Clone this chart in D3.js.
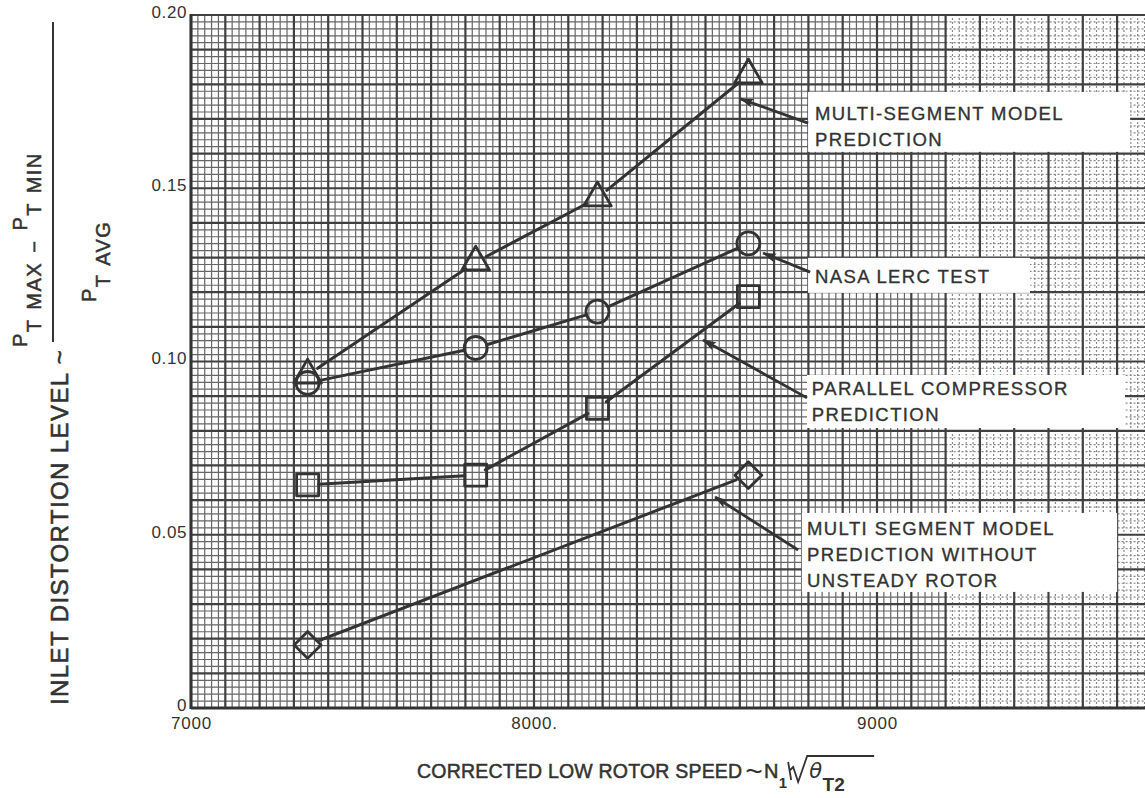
<!DOCTYPE html>
<html><head><meta charset="utf-8">
<script src="https://cdn.jsdelivr.net/npm/d3@7/dist/d3.min.js"></script>
<style>
body{margin:0;background:#fff;}
svg{display:block;}
text{font-family:"Liberation Sans", Arial, Helvetica, sans-serif; fill:#333;}
</style></head><body>
<svg id="chart" width="1145" height="798"></svg>
<script>
// ---- data ----
const speeds = [7340, 7830, 8185, 8625];
const multiSegment = [0.0961, 0.1287, 0.1472, 0.1827];   // triangles
const nasaTest = [0.0938, 0.1039, 0.1144, 0.1341];       // circles
const parallelComp = [0.0644, 0.0672, 0.0865, 0.1187];   // squares
const noUnsteadySpeeds = [7340, 8625];
const noUnsteady = [0.0182, 0.0672];                     // diamonds
const yTicks = [0, 0.05, 0.10, 0.15, 0.20];
const yTickLabels = ["0", "0.05", "0.10", "0.15", "0.20"];
const xTicks = [7000, 8000, 9000];
const xTickLabels = ["7000", "8000.", "9000"];
const labelMulti = ["MULTI-SEGMENT MODEL", "PREDICTION"];
const labelNasa = ["NASA LERC TEST"];
const labelParallel = ["PARALLEL COMPRESSOR", "PREDICTION"];
const labelNoUnsteady = ["MULTI SEGMENT MODEL", "PREDICTION WITHOUT", "UNSTEADY ROTOR"];

// ---- layout ----
const svg = d3.select("#chart");
const x = d3.scaleLinear().domain([7000, 9800]).range([191, 191 + 2800 * 0.343]);
const y = d3.scaleLinear().domain([0, 0.20]).range([708, 15]);
const ink = "#333";
const xFadeStart = 9200;

// ---- grid paper ----
const grid = svg.append("g");
const xMinor = d3.range(0, 141).map(i => 7000 + i * 20);
const yMinor = d3.range(0, 101).map(i => i * 0.002);
const xMajor = d3.range(0, 29).map(i => 7000 + i * 100);
const yMajor = d3.range(0, 21).map(i => i * 0.01);
const isMajX = v => Math.abs((v - 7000) % 100) < 1e-6;
const isMajY = v => Math.abs(Math.round(v * 100) - v * 100) < 1e-6;

grid.selectAll("line.vmin").data(xMinor.filter(v => !isMajX(v))).join("line")
  .attr("x1", d => x(d)).attr("x2", d => x(d)).attr("y1", y(0)).attr("y2", y(0.2))
  .attr("stroke", d => d > xFadeStart ? "#888" : "#666").attr("stroke-width", 1.2)
  .attr("stroke-dasharray", d => d > xFadeStart ? "2,2" : null);
grid.selectAll("line.hmin").data(yMinor.filter(v => !isMajY(v))).join("line")
  .attr("x1", x(7000)).attr("x2", x(xFadeStart)).attr("y1", d => y(d)).attr("y2", d => y(d))
  .attr("stroke", "#666").attr("stroke-width", 1.2);
grid.selectAll("line.hminf").data(yMinor.filter(v => !isMajY(v))).join("line")
  .attr("x1", x(xFadeStart)).attr("x2", x(9800)).attr("y1", d => y(d)).attr("y2", d => y(d))
  .attr("stroke", "#888").attr("stroke-width", 1.2).attr("stroke-dasharray", "2,2");
grid.selectAll("line.vmaj").data(xMajor).join("line")
  .attr("x1", d => x(d)).attr("x2", d => x(d)).attr("y1", y(0)).attr("y2", y(0.2))
  .attr("stroke", "#404040").attr("stroke-width", 2.2);
grid.selectAll("line.hmaj").data(yMajor).join("line")
  .attr("x1", x(7000)).attr("x2", x(9800)).attr("y1", d => y(d)).attr("y2", d => y(d))
  .attr("stroke", "#404040").attr("stroke-width", 2.2);
// frame
grid.append("line").attr("x1", x(7000)).attr("x2", x(7000)).attr("y1", y(0) + 1).attr("y2", y(0.2) - 1)
  .attr("stroke", ink).attr("stroke-width", 3);
grid.append("line").attr("x1", x(7000)).attr("x2", x(9800)).attr("y1", y(0)).attr("y2", y(0))
  .attr("stroke", ink).attr("stroke-width", 3);

// ---- axes (labels only) ----
const yAxis = svg.append("g").attr("transform", `translate(${x(7000) - 4},-3)`)
  .call(d3.axisLeft(y).tickValues(yTicks).tickSize(0).tickPadding(0)
    .tickFormat((d, i) => yTickLabels[i]));
yAxis.select(".domain").remove();
yAxis.selectAll("text").style("font-size", "17px").style("letter-spacing", "0.6px")
  .style("font-family", '"Liberation Sans", Arial, sans-serif').attr("fill", "#333");

const xAxis = svg.append("g").attr("transform", `translate(0,${y(0) + 9})`)
  .call(d3.axisBottom(x).tickValues(xTicks).tickSize(0).tickPadding(0)
    .tickFormat((d, i) => xTickLabels[i]));
xAxis.select(".domain").remove();
xAxis.selectAll("text").style("font-size", "17px").style("letter-spacing", "0.8px")
  .style("font-family", '"Liberation Sans", Arial, sans-serif').attr("fill", "#333");

// ---- series ----
const series = [
  {xs: speeds, ys: multiSegment, sym: "triangle", r: 12},
  {xs: speeds, ys: nasaTest, sym: "circle", r: 11.5},
  {xs: speeds, ys: parallelComp, sym: "square", r: 11},
  {xs: noUnsteadySpeeds, ys: noUnsteady, sym: "diamond", r: 13}
];
const lineG = svg.append("g");
series.forEach(s => {
  const pts = s.xs.map((v, i) => [x(v), y(s.ys[i])]);
  for (let i = 0; i < pts.length - 1; i++) {
    const [x1, y1] = pts[i], [x2, y2] = pts[i + 1];
    const dx = x2 - x1, dy = y2 - y1, L = Math.hypot(dx, dy);
    const ux = dx / L, uy = dy / L;
    lineG.append("line")
      .attr("x1", x1 + ux * s.r).attr("y1", y1 + uy * s.r)
      .attr("x2", x2 - ux * s.r).attr("y2", y2 - uy * s.r)
      .attr("stroke", ink).attr("stroke-width", 3).attr("stroke-linecap", "round");
  }
  const symType = {triangle: d3.symbolTriangle, circle: d3.symbolCircle, square: d3.symbolSquare, diamond: d3.symbolSquare}[s.sym];
  const size = {triangle: 330, circle: Math.PI * 11.5 * 11.5, square: 22 * 22, diamond: 19 * 19}[s.sym];
  lineG.selectAll(null).data(pts).join("path")
    .attr("d", d3.symbol().type(symType).size(size))
    .attr("transform", d => `translate(${d[0]},${d[1]})` + (s.sym === "diamond" ? " rotate(45)" : ""))
    .attr("fill", "none").attr("stroke", ink).attr("stroke-width", 2.8).attr("stroke-linejoin", "round");
});

// ---- annotations ----
const annotations = [
  {lines: labelMulti, box: [8799, 9738, 0.1778, 0.1605], text: [8819, 0.1697], tail: [8799, 0.1688], tip: [8602, 0.1758]},
  {lines: labelNasa, box: [8799, 9446, 0.1299, 0.1198], text: [8819, 0.1227], tail: [8805, 0.1258], tip: [8668, 0.1313]},
  {lines: labelParallel, box: [8796, 9723, 0.0961, 0.0808], text: [8810, 0.0903], tail: [8796, 0.0895], tip: [8493, 0.1062]},
  {lines: labelNoUnsteady, box: [8781, 9700, 0.0563, 0.0335], text: [8796, 0.0499], tail: [8770, 0.0456], tip: [8528, 0.0609]}
];
const defs = svg.append("defs");
defs.append("marker").attr("id", "ah").attr("viewBox", "0 0 14 10").attr("refX", 13).attr("refY", 5)
  .attr("markerWidth", 14).attr("markerHeight", 10).attr("markerUnits", "userSpaceOnUse")
  .attr("orient", "auto")
  .append("path").attr("d", "M0,0.5 L14,5 L0,9.5 L3,5 Z").attr("fill", ink);

const annG = svg.append("g");
annotations.forEach(a => {
  annG.append("rect")
    .attr("x", x(a.box[0])).attr("y", y(a.box[2]))
    .attr("width", x(a.box[1]) - x(a.box[0])).attr("height", y(a.box[3]) - y(a.box[2]))
    .attr("fill", "#ffffff");
  a.lines.forEach((t, i) => {
    annG.append("text").attr("x", x(a.text[0])).attr("y", y(a.text[1]) + i * 25.8)
      .style("font-size", "18.5px").style("letter-spacing", "1.4px")
      .attr("stroke", "#333").attr("stroke-width", 0.35).text(t);
  });
  annG.append("line")
    .attr("x1", x(a.tail[0])).attr("y1", y(a.tail[1]))
    .attr("x2", x(a.tip[0])).attr("y2", y(a.tip[1]))
    .attr("stroke", ink).attr("stroke-width", 2.8).attr("marker-end", "url(#ah)");
});

// ---- x axis title ----
const xt = svg.append("g");
const t0 = xt.append("text").attr("x", 417).attr("y", 778).style("font-size", "19.5px").style("letter-spacing", "0.2px")
  .attr("stroke", "#333").attr("stroke-width", 0.5)
  .text("CORRECTED LOW ROTOR SPEED");
let cx = 417 + t0.node().getComputedTextLength() + 3;
const tl = xt.append("text").attr("x", cx).attr("y", 781).style("font-size", "30px").text("~");
cx += tl.node().getComputedTextLength() + 1;
const tn = xt.append("text").attr("x", cx).attr("y", 778).style("font-size", "20px")
  .attr("stroke", "#333").attr("stroke-width", 0.5).text("N");
cx += tn.node().getComputedTextLength() + 0.5;
const t1 = xt.append("text").attr("x", cx).attr("y", 788).style("font-size", "15px").style("font-weight", "bold").text("1");
cx += t1.node().getComputedTextLength() + 1;
// slash + radical
xt.append("path")
  .attr("d", `M${cx},${762} L${cx + 3},${780} M${cx + 1},${771} L${cx + 5},${767} L${cx + 10},${782} L${cx + 19},${756} L${cx + 86},${756}`)
  .attr("fill", "none").attr("stroke", "#333").attr("stroke-width", 1.8);
cx += 21;
const tth = xt.append("text").attr("x", cx).attr("y", 778).style("font-size", "21px").style("font-style", "italic")
  .style("font-family", '"DejaVu Sans", sans-serif').text("θ");
cx += tth.node().getComputedTextLength() + 0.5;
xt.append("text").attr("x", cx).attr("y", 791).style("font-size", "19px").style("font-weight", "bold").text("T2");

// ---- y axis title ----
const yt = svg.append("g").attr("transform", "translate(68,705) rotate(-90)");
yt.append("text").attr("x", 0).attr("y", 0).style("font-size", "24px").style("letter-spacing", "1.4px")
  .attr("stroke", "#333").attr("stroke-width", 0.6)
  .text("INLET DISTORTION LEVEL ~");
// fraction bar
svg.append("line").attr("x1", 53).attr("x2", 53).attr("y1", 22).attr("y2", 342)
  .attr("stroke", "#333").attr("stroke-width", 2);
// numerator
const num = svg.append("g").attr("transform", "translate(41,347) rotate(-90)")
  .append("text").attr("x", 0).attr("y", 0).style("font-size", "20px")
  .style("letter-spacing", "1.5px").style("word-spacing", "2px")
  .attr("stroke", "#333").attr("stroke-width", 0.5);
num.append("tspan").attr("dy", -14).text("P");
num.append("tspan").attr("dy", 14).text("T MAX \u2212 ");
num.append("tspan").attr("dy", -14).text("P");
num.append("tspan").attr("dy", 14).text("T MIN");
// denominator
const den = svg.append("g").attr("transform", "translate(110,302) rotate(-90)")
  .append("text").attr("x", 0).attr("y", 0).style("font-size", "20px")
  .style("letter-spacing", "1.5px").style("word-spacing", "2px")
  .attr("stroke", "#333").attr("stroke-width", 0.5);
den.append("tspan").attr("dy", -14).text("P");
den.append("tspan").attr("dy", 14).text("T AVG");
</script>
</body></html>
